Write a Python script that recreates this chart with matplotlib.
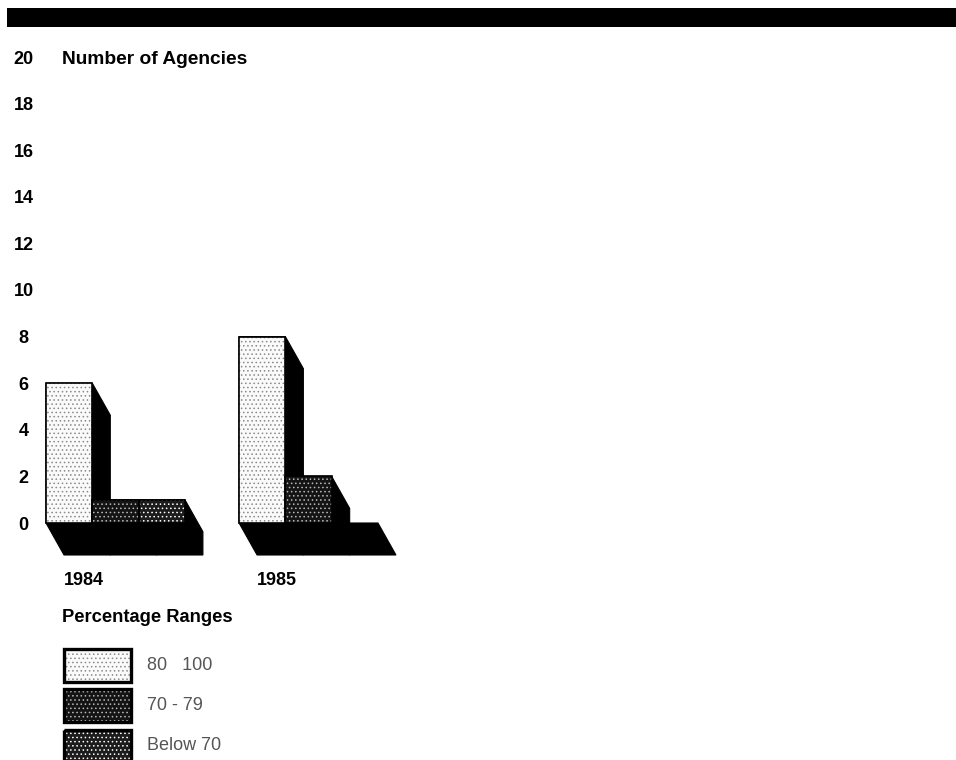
import numpy as np
import matplotlib
matplotlib.use("Agg")
import matplotlib.pyplot as plt
from matplotlib.patches import Polygon, Rectangle
from matplotlib.transforms import Affine2D

years = ["1984", "1985"]
series_names = ["80   100", "70 - 79", "Below 70"]
values_1984 = [6, 1, 1]
values_1985 = [8, 2, 0]
y_ticks = [0, 2, 4, 6, 8, 10, 12, 14, 16, 18, 20]

W, H = 956, 760
SLOT, UNIT = 46.3, 23.3
X0, Y0 = 46, 523
plt.rcParams['font.family'] = ['Liberation Sans', 'DejaVu Sans']
plt.rcParams['hatch.linewidth'] = 0.6

fig = plt.figure(figsize=(W / 100, H / 100), dpi=100)
ax = fig.add_axes([X0 / W, (H - Y0) / H, (W - X0) / W, Y0 / H])
ax.set_xlim(0, (W - X0) / SLOT)
ax.set_ylim(0, Y0 / UNIT)
for s in ax.spines.values():
    s.set_visible(False)

# pixel-space transform (origin top-left) for layout items
px = Affine2D().scale(1 / W, -1 / H).translate(0, 1) + fig.transFigure

styles = [
    dict(facecolor="#fafafa", hatch="....", hatch_color="#8a8a8a"),
    dict(facecolor="#141414", hatch="....", hatch_color="#b8b8b8"),
    dict(facecolor="#1c1c1c", hatch="....", hatch_color="#ffffff"),
]
DX, DY = 18 / SLOT, -32 / UNIT
group_x = [0, 4.17]
for gx, vals in zip(group_x, [values_1984, values_1985]):
    for i, v in enumerate(vals):
        x0, x1 = gx + i, gx + i + 1
        ax.add_patch(Polygon([(x0, 0), (x0, v), (x1, v), (x1 + DX, v + DY),
                              (x1 + DX, DY), (x0 + DX, DY)], closed=True,
                             facecolor="black", edgecolor="black", lw=0.8,
                             clip_on=False, zorder=2))
    for i, v in enumerate(vals):
        if v > 0:
            st = styles[i]
            ax.bar(gx + i + 0.5, v, width=1, facecolor=st["facecolor"], hatch=st["hatch"],
                   edgecolor=st["hatch_color"], lw=0, zorder=3)
            ax.add_patch(Rectangle((gx + i, 0), 1, v, fill=False, edgecolor="black",
                                   lw=1.2, zorder=4, clip_on=False))

ax.set_yticks(y_ticks)
ax.set_yticklabels([str(t) for t in y_ticks], fontsize=13, fontweight="bold")
ax.tick_params(axis="y", length=0, pad=16)
for t in ax.get_yticklabels():
    t.set_ha("center")
    t.set_va("center_baseline")
ax.set_xticks([g + 0.81 for g in group_x])
ax.set_xticklabels(years, fontsize=13, fontweight="bold")
ax.tick_params(axis="x", length=0, pad=35)

# top banner
fig.add_artist(Rectangle((7, 8), W, 19, transform=px, facecolor="black", edgecolor="none"))
fig.text(62, 59, "Number of Agencies", transform=px, fontsize=13.8, fontweight="bold",
         ha="left", va="center")
fig.text(62, 618, "Percentage Ranges", transform=px, fontsize=13.2, fontweight="bold",
         ha="left", va="center")

boxes = [(649, 33), (689, 33), (730, 33)]
text_y = [666, 706, 746]
for st, (by, bh), ty, name in zip(styles, boxes, text_y, series_names):
    fig.add_artist(Rectangle((64, by), 67, bh, transform=px, facecolor=st["facecolor"],
                             hatch=st["hatch"], edgecolor=st["hatch_color"], lw=0))
    fig.add_artist(Rectangle((64, by), 67, bh, transform=px, fill=False,
                             edgecolor="black", lw=2.4))
    fig.text(147, ty, name, transform=px, fontsize=13, color="#555555", ha="left", va="center")

fig.savefig("out.png", dpi=100)
